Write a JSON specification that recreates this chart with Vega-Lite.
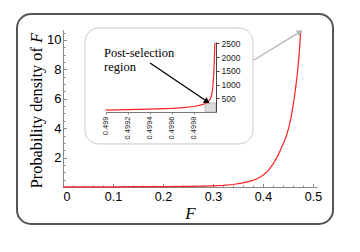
{
  "$schema": "https://vega.github.io/schema/vega-lite/v6.json",
  "width": 316,
  "height": 210,
  "autosize": "none",
  "padding": {"left": 17, "top": 14, "right": 27, "bottom": 28},
  "background": "white",
  "config": {
    "view": {"stroke": "#555555", "strokeWidth": 2, "cornerRadius": 14, "fill": "white"},
    "axis": {"grid": false, "domainColor": "#888888", "tickColor": "#888888", "labelColor": "#000000", "labelFont": "Liberation Sans", "titleFont": "Liberation Serif", "titleFontWeight": "normal", "titleColor": "#000000"}
  },
  "datasets": {
    "main": [
      {"F": 0.0, "density": 0.01},
      {"F": 0.05, "density": 0.01},
      {"F": 0.1, "density": 0.015},
      {"F": 0.15, "density": 0.02},
      {"F": 0.2, "density": 0.03},
      {"F": 0.25, "density": 0.045},
      {"F": 0.28, "density": 0.06},
      {"F": 0.3, "density": 0.08},
      {"F": 0.32, "density": 0.11},
      {"F": 0.34, "density": 0.17},
      {"F": 0.36, "density": 0.28},
      {"F": 0.38, "density": 0.45},
      {"F": 0.39, "density": 0.6},
      {"F": 0.4, "density": 0.8},
      {"F": 0.41, "density": 1.1},
      {"F": 0.42, "density": 1.55},
      {"F": 0.43, "density": 2.15},
      {"F": 0.44, "density": 2.9},
      {"F": 0.447, "density": 3.5},
      {"F": 0.452, "density": 4.1},
      {"F": 0.456, "density": 4.7},
      {"F": 0.46, "density": 5.5},
      {"F": 0.464, "density": 6.4},
      {"F": 0.468, "density": 7.5},
      {"F": 0.472, "density": 8.9},
      {"F": 0.4754, "density": 10.6}
    ],
    "inset": [
      {"F": 0.499, "density": 70},
      {"F": 0.4992, "density": 85},
      {"F": 0.4994, "density": 105},
      {"F": 0.4996, "density": 135},
      {"F": 0.4997, "density": 160},
      {"F": 0.4998, "density": 200},
      {"F": 0.49985, "density": 240},
      {"F": 0.4999, "density": 300},
      {"F": 0.49993, "density": 380},
      {"F": 0.49995, "density": 480},
      {"F": 0.49996, "density": 600},
      {"F": 0.49997, "density": 850},
      {"F": 0.49998, "density": 1400},
      {"F": 0.499985, "density": 1950},
      {"F": 0.49999, "density": 2520}
    ],
    "box": [{"x1": 0.044, "x2": 0.38, "y1": 2.93, "y2": 10.82}],
    "garrow": [{"x1": 0.382, "y1": 8.64, "x2": 0.474, "y2": 10.55}],
    "shade": [{"x1": 0.4999, "x2": 0.5, "y1": 0, "y2": 330}],
    "barrow": [{"x1": 0.499402, "y1": 1783, "x2": 0.49992, "y2": 380}],
    "note": [
      {"label": "Post-selection", "lx": 0.498985, "ly": 1990},
      {"label": "region", "lx": 0.498985, "ly": 1492}
    ]
  },
  "layer": [
    {
      "layer": [
        {
          "data": {"name": "main"},
          "mark": {"type": "line", "color": "#ff2020", "strokeWidth": 1.2, "clip": false},
          "encoding": {
            "x": {"field": "F", "type": "quantitative",
              "scale": {"domain": [0, 0.508], "range": [46, 300], "nice": false, "zero": false},
              "axis": {"orient": "bottom", "offset": -37, "values": [0, 0.1, 0.2, 0.3, 0.4, 0.5], "format": "~g", "tickSize": -3.5, "labelPadding": 6.5, "labelFontSize": 12.5, "title": "F", "titleFontStyle": "italic", "titleFontSize": 17, "titlePadding": 3}},
            "y": {"field": "density", "type": "quantitative",
              "scale": {"domain": [0, 10.7], "range": [173, 15.7], "nice": false, "zero": false},
              "axis": {"orient": "left", "offset": -46, "values": [2, 4, 6, 8, 10], "tickSize": -3.5, "labelPadding": 5.5, "labelFontSize": 13, "title": "Probability density of", "titleFontSize": 16.3, "titleAngle": 270, "titleAlign": "left", "titleBaseline": "alphabetic", "titleX": -21.5, "titleY": 173.7}}
          }
        },
        {
          "data": {"name": "box"},
          "mark": {"type": "rect", "fill": "white", "stroke": "#c8c8c8", "strokeWidth": 1, "cornerRadius": 14, "clip": false},
          "encoding": {
            "x": {"field": "x1", "type": "quantitative", "scale": {"domain": [0, 0.508], "range": [46, 300], "nice": false, "zero": false},
              "axis": {"orient": "bottom", "offset": -37, "values": [0.02, 0.04, 0.06, 0.08, 0.12, 0.14, 0.16, 0.18, 0.22, 0.24, 0.26, 0.28, 0.32, 0.34, 0.36, 0.38, 0.42, 0.44, 0.46, 0.48], "labels": false, "domain": false, "tickSize": -2, "title": null}},
            "x2": {"field": "x2"},
            "y": {"field": "y1", "type": "quantitative", "scale": {"domain": [0, 10.7], "range": [173, 15.7], "nice": false, "zero": false},
              "axis": {"orient": "left", "offset": -46, "values": [0.5, 1, 1.5, 2.5, 3, 3.5, 4.5, 5, 5.5, 6.5, 7, 7.5, 8.5, 9, 9.5, 10.5], "labels": false, "domain": false, "tickSize": -2, "title": "F", "titleFontStyle": "italic", "titleFontSize": 16.3, "titleAngle": 270, "titleAlign": "left", "titleBaseline": "alphabetic", "titleX": -21.5, "titleY": 28.2}},
            "y2": {"field": "y2"}
          }
        },
        {
          "data": {"name": "garrow"},
          "mark": {"type": "rule", "color": "#b4b4b4", "strokeWidth": 1.3, "clip": false},
          "encoding": {
            "x": {"field": "x1", "type": "quantitative", "axis": null},
            "y": {"field": "y1", "type": "quantitative", "axis": null},
            "x2": {"field": "x2"},
            "y2": {"field": "y2"}
          }
        },
        {
          "data": {"name": "garrow"},
          "mark": {"type": "point", "shape": "triangle-right", "filled": true, "color": "#b4b4b4", "opacity": 1, "size": 45, "angle": 328, "clip": false},
          "encoding": {
            "x": {"field": "x2", "type": "quantitative", "axis": null},
            "y": {"field": "y2", "type": "quantitative", "axis": null}
          }
        }
      ],
      "resolve": {"axis": {"x": "independent", "y": "independent"}}
    },
    {
      "layer": [
        {
          "data": {"name": "shade"},
          "mark": {"type": "rect", "fill": "#dcdcdc", "stroke": "#a0a0a0", "strokeWidth": 0.5, "clip": false},
          "encoding": {
            "x": {"field": "x1", "type": "quantitative", "scale": {"domain": [0.499, 0.5], "range": [88.7, 199], "nice": false, "zero": false}, "axis": null},
            "x2": {"field": "x2"},
            "y": {"field": "y1", "type": "quantitative", "scale": {"domain": [0, 2550], "range": [98, 27.9], "nice": false, "zero": false}, "axis": null},
            "y2": {"field": "y2"}
          }
        },
        {
          "data": {"name": "inset"},
          "mark": {"type": "line", "color": "#ff2020", "strokeWidth": 1.2, "clip": false},
          "encoding": {
            "x": {"field": "F", "type": "quantitative", "scale": {"domain": [0.499, 0.5], "range": [88.7, 199], "nice": false, "zero": false},
              "axis": {"orient": "bottom", "offset": -112, "zindex": 1, "values": [0.499, 0.4992, 0.4994, 0.4996, 0.4998], "format": ".4~f", "labelAngle": 270, "labelFontSize": 7.5, "labelColor": "#222222", "labelPadding": 2, "tickSize": 2, "domainColor": "#777777", "title": null}},
            "y": {"field": "density", "type": "quantitative", "scale": {"domain": [0, 2550], "range": [98, 27.9], "nice": false, "zero": false},
              "axis": {"orient": "right", "offset": -117, "zindex": 1, "values": [500, 1000, 1500, 2000, 2500], "format": "d", "labelFontSize": 8.5, "labelColor": "#222222", "labelPadding": 2, "tickSize": 3, "domainColor": "#444444", "tickColor": "#444444", "title": null}}
          }
        },
        {
          "data": {"name": "barrow"},
          "mark": {"type": "rule", "color": "#000000", "strokeWidth": 1.3, "clip": false},
          "encoding": {
            "x": {"field": "x1", "type": "quantitative", "axis": null},
            "y": {"field": "y1", "type": "quantitative", "axis": null},
            "x2": {"field": "x2"},
            "y2": {"field": "y2"}
          }
        },
        {
          "data": {"name": "barrow"},
          "mark": {"type": "point", "shape": "triangle-right", "filled": true, "color": "#000000", "opacity": 1, "size": 45, "angle": 34, "clip": false},
          "encoding": {
            "x": {"field": "x2", "type": "quantitative", "axis": null},
            "y": {"field": "y2", "type": "quantitative", "axis": null}
          }
        },
        {
          "data": {"name": "note"},
          "mark": {"type": "text", "font": "Liberation Serif", "fontSize": 12.5, "align": "left", "baseline": "alphabetic", "color": "#000000", "clip": false},
          "encoding": {
            "x": {"field": "lx", "type": "quantitative", "axis": null},
            "y": {"field": "ly", "type": "quantitative", "axis": null},
            "text": {"field": "label"}
          }
        }
      ],
      "resolve": {"axis": {"x": "independent", "y": "independent"}}
    }
  ],
  "resolve": {"scale": {"x": "independent", "y": "independent"}}
}
